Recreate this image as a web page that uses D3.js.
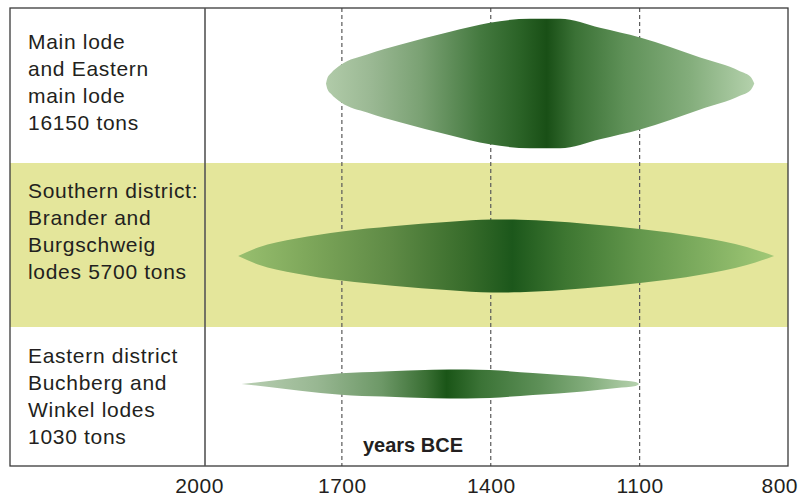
<!DOCTYPE html>
<meta charset="utf-8">
<style>
  body { margin: 0; background: #fff; }
  svg { display: block; }
  .label { font: 21px "Liberation Sans", Arial, sans-serif; fill: #231f20; letter-spacing: 0.7px; }
  .tick text { font: 21px "Liberation Sans", Arial, sans-serif; fill: #231f20; letter-spacing: 0.5px; }
  .unit { font: bold 20px "Liberation Sans", Arial, sans-serif; fill: #231f20; }
  .grid { stroke: #5a5a5a; stroke-width: 1.2; stroke-dasharray: 4,3; }
</style>
<body>
<script src="https://cdn.jsdelivr.net/npm/d3@7"></script>
<script>

  // row labels (one array of lines per district)
  var labels = [
      ["Main lode", "and Eastern", "main lode", "16150 tons"],
      ["Southern district:", "Brander and", "Burgschweig", "lodes 5700 tons"],
      ["Eastern district", "Buchberg and", "Winkel lodes", "1030 tons"]
  ];

  var tickYears = [2000, 1700, 1400, 1100, 800];
  var dashYears = [1700, 1400, 1100];

  // relative mining intensity (half width of each shape) by year BCE
  var mainYears    = [1732, 1729, 1722, 1702, 1649, 1583, 1482, 1402, 1321, 1260, 1180, 1099, 978, 898, 876, 869];
  var mainValues   = [0, 9, 16, 29, 45, 60, 80, 94, 100, 100, 86, 71, 40, 19, 10, 0];

  var southYears   = [1909, 1869, 1792, 1700, 1598, 1482, 1398, 1341, 1210, 1095, 977, 884, 829];
  var southValues  = [0, 13, 27, 38, 46, 53, 56.5, 56, 50, 41.5, 29, 14, 0];

  var eastYears    = [1902, 1851, 1784, 1702, 1617, 1516, 1448, 1402, 1315, 1214, 1146, 1108, 1101];
  var eastValues   = [0, 4.3, 10.3, 16.5, 19.5, 22, 22.3, 21.5, 17, 11.5, 6, 3, 0];

  var series = [
      { years: mainYears,  values: mainValues },
      { years: southYears, values: southValues },
      { years: eastYears,  values: eastValues }
  ];

  // layout / style (not data)
  var W = 801, H = 499,
      frame = { left: 10, top: 8, right: 788, bottom: 466 },
      divider = 205,
      rowTop = [8, 163, 327],
      rowBottom = [163, 327, 466],
      lensY = [83.5, 256, 384],
      lineStart = [49, 198, 363],
      lineStep = 27;

  var gradients = [
      [[1732, "#b1cba9"], [1640, "#9ab893"], [1540, "#7aa173"], [1420, "#44793f"], [1340, "#2a6226"], [1287, "#194f16"],
       [1230, "#3a7135"], [1130, "#5f9158"], [1000, "#83ad7b"], [869, "#b4d1ac"]],
      [[1909, "#98bf6f"], [1780, "#80a95c"], [1600, "#5e8a45"], [1450, "#386c2b"], [1357, "#1c571b"],
       [1250, "#3d7631"], [1100, "#63974c"], [960, "#82b062"], [829, "#a2c977"]],
      [[1902, "#b9cfb3"], [1750, "#98b792"], [1620, "#6d9867"], [1530, "#3a6f34"], [1489, "#1a5517"],
       [1420, "#3b7336"], [1300, "#5e9058"], [1200, "#84ae7d"], [1101, "#b7d2af"]]
  ];

  var svg = d3.select("body").append("svg")
      .attr("width", W)
      .attr("height", H);

  var x = d3.scaleLinear()
      .domain([2000, 800])
      .range([193, 788.5]);

  var t = d3.scaleLinear()
      .domain([0, 100])
      .range([0, 64.7]);

  // yellow band for southern district
  svg.append("rect")
      .attr("x", frame.left)
      .attr("y", rowTop[1])
      .attr("width", frame.right - frame.left)
      .attr("height", rowBottom[1] - rowTop[1])
      .attr("fill", "#e4e69b");

  // dashed year lines
  svg.selectAll(".grid")
      .data(dashYears)
      .enter().append("line")
      .attr("class", "grid")
      .attr("x1", function(d) { return x(d); })
      .attr("x2", function(d) { return x(d); })
      .attr("y1", frame.top)
      .attr("y2", frame.bottom);

  var defs = svg.append("defs");

  gradients.forEach(function(stops, i) {
      var s = series[i];
      var x0 = x(s.years[0]), x1 = x(s.years[s.years.length - 1]);
      var g = defs.append("linearGradient")
          .attr("id", "grad" + i)
          .attr("gradientUnits", "userSpaceOnUse")
          .attr("x1", x0)
          .attr("x2", x1)
          .attr("y1", 0).attr("y2", 0);
      stops.forEach(function(st) {
          g.append("stop")
              .attr("offset", (x(st[0]) - x0) / (x1 - x0))
              .attr("stop-color", st[1]);
      });
  });

  series.forEach(function(s, i) {
      var pts = s.years.map(function(y, j) { return { year: y, v: s.values[j] }; });
      var area = d3.area()
          .x(function(d) { return x(d.year); })
          .y0(function(d) { return lensY[i] + t(d.v); })
          .y1(function(d) { return lensY[i] - t(d.v); })
          .curve(d3.curveMonotoneX);
      svg.append("path")
          .datum(pts)
          .attr("d", area)
          .attr("fill", "url(#grad" + i + ")");
  });

  // frame and label column divider
  svg.append("rect")
      .attr("x", frame.left)
      .attr("y", frame.top)
      .attr("width", frame.right - frame.left)
      .attr("height", frame.bottom - frame.top)
      .attr("fill", "none")
      .attr("stroke", "#3a3a3a")
      .attr("stroke-width", 1.3);

  svg.append("line")
      .attr("x1", divider).attr("x2", divider)
      .attr("y1", frame.top).attr("y2", frame.bottom)
      .attr("stroke", "#555")
      .attr("stroke-width", 1.6);

  // row labels
  labels.forEach(function(lines, i) {
      svg.selectAll(null)
          .data(lines)
          .enter().append("text")
          .attr("class", "label")
          .attr("x", 28)
          .attr("y", function(d, j) { return lineStart[i] + j * lineStep; })
          .text(function(d) { return d; });
  });

  svg.append("text")
      .attr("class", "unit")
      .attr("x", 413)
      .attr("y", 452)
      .attr("text-anchor", "middle")
      .text("years BCE");

  var axis = svg.append("g")
      .attr("transform", "translate(0," + frame.bottom + ")")
      .call(d3.axisBottom(x).tickValues(tickYears).tickSize(0).tickPadding(0).tickFormat(d3.format("d")));

  axis.select(".domain").remove();
  axis.selectAll(".tick text")
      .attr("y", 27)
      .attr("dy", null);
  axis.selectAll(".tick text")
      .filter(function(d) { return d === 2000; })
      .attr("dx", 6);
  axis.selectAll(".tick text")
      .filter(function(d) { return d === 800; })
      .attr("text-anchor", "end")
      .attr("dx", 9);

</script>
